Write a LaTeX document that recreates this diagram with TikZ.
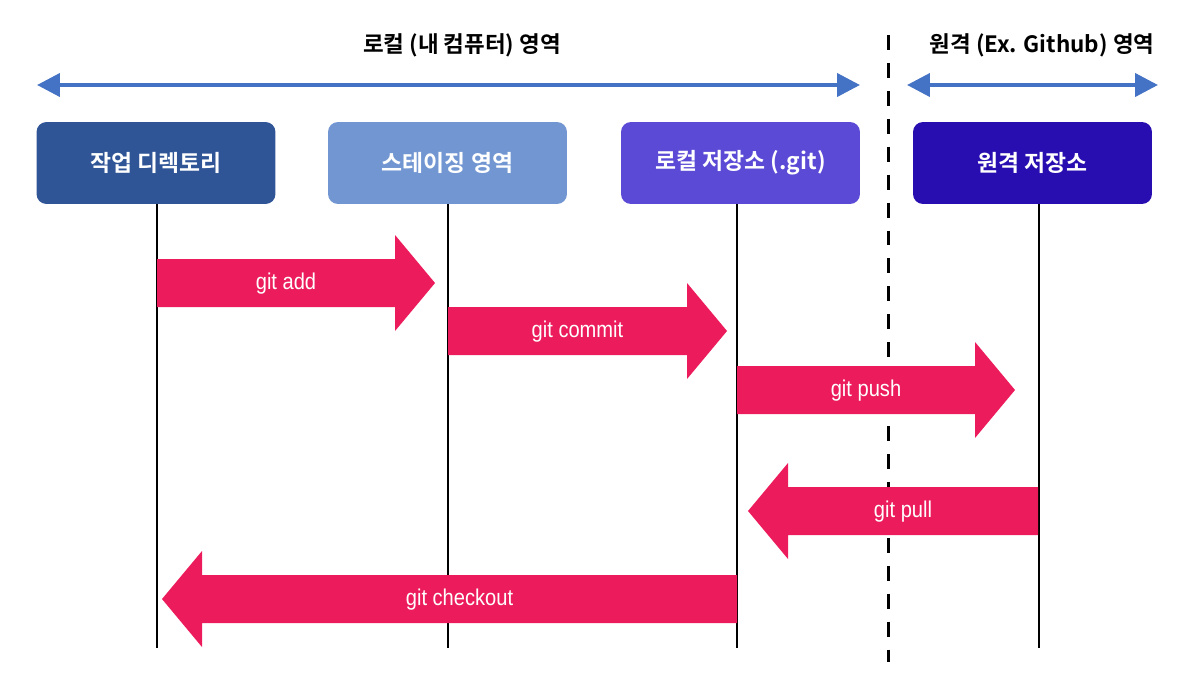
\documentclass[tikz,border=0pt]{standalone}
\usepackage{fontspec}
\setmainfont{Noto Sans CJK KR}[BoldFont={Noto Sans CJK KR Bold}]
\newfontfamily\gitfont[FakeStretch=0.88]{Liberation Sans}
\usetikzlibrary{arrows.meta}

\definecolor{wdblue}{RGB}{47,85,151}
\definecolor{stgblue}{RGB}{114,150,210}
\definecolor{lrpurple}{RGB}{90,74,214}
\definecolor{rrindigo}{RGB}{40,14,176}
\definecolor{gitpink}{RGB}{236,28,92}
\definecolor{areablue}{RGB}{68,114,196}

\tikzset{
  repo/.style={rounded corners=0.2cm, minimum width=4.78cm, minimum height=1.64cm,
    text=white, font=\bfseries\fontsize{13}{15}\selectfont},
  area/.style={font=\bfseries\fontsize{12.8}{15}\selectfont},
  cmd/.style={text=white, font=\gitfont\fontsize{13}{15}\selectfont},
  lifeline/.style={line width=1.2pt},
  span/.style={areablue, line width=2.3pt, {Triangle[length=13pt,width=13pt]}-{Triangle[length=13pt,width=13pt]}}
}

% fat arrow: tail x, tip x, y, label, name
\newcommand{\fatarrow}[5]{%
  \pgfmathsetmacro{\hb}{#2 + (#2 < #1 ? 40 : -40)}%
  \pgfmathsetmacro{\mx}{(#1 + #2 + (#2 < #1 ? 20 : -20))/2}%
  \fill[gitpink] (#1,#3-24) -- (\hb,#3-24) -- (\hb,#3-48) -- (#2,#3)
    -- (\hb,#3+48) -- (\hb,#3+24) -- (#1,#3+24) -- cycle;
  \node[cmd] (#5) at (\mx,#3+1) {#4};}

\begin{document}
\begin{tikzpicture}[x=0.02cm, y=-0.02cm]
  \useasboundingbox (0,0) rectangle (1200,683);

  % areas
  \node[area] (local) at (462,45) {로컬 (내 컴퓨터) 영역};
  \node[area] (remote) at (1042,45) {원격 (Ex. Github) 영역};
  \coordinate (l1) at (37,85);  \coordinate (l2) at (860,85);
  \coordinate (r1) at (907,85); \coordinate (r2) at (1158,85);
  \draw[span] (l1) -- (l2);
  \draw[span] (r1) -- (r2);
  \draw[line width=1.7pt, dash pattern=on 8.5pt off 7.4pt] (888,35) -- (888,662);

  % repositories
  \node[repo, fill=wdblue] (wd) at (156,163) {작업 디렉토리};
  \node[repo, fill=stgblue] (stg) at (447.5,163) {스테이징 영역};
  \node[repo, fill=lrpurple] (lrepo) at (740.5,163) {로컬 저장소 (.git)};
  \node[repo, fill=rrindigo] (rrepo) at (1032.5,163) {원격 저장소};

  \coordinate (e1) at (157,648);  \coordinate (e2) at (448,648);
  \coordinate (e3) at (737,648);  \coordinate (e4) at (1039,648);
  \draw[lifeline] (e1 |- wd.south) -- (e1);
  \draw[lifeline] (e2 |- stg.south) -- (e2);
  \draw[lifeline] (e3 |- lrepo.south) -- (e3);
  \draw[lifeline] (e4 |- rrepo.south) -- (e4);

  % commands
  \fatarrow{157}{435}{283}{git add}{add}
  \fatarrow{448}{727}{331}{git commit}{commit}
  \fatarrow{737}{1015}{390}{git push}{push}
  \fatarrow{1038}{748}{511}{git pull}{pull}
  \fatarrow{737}{162}{599}{git checkout}{checkout}
\end{tikzpicture}
\end{document}
